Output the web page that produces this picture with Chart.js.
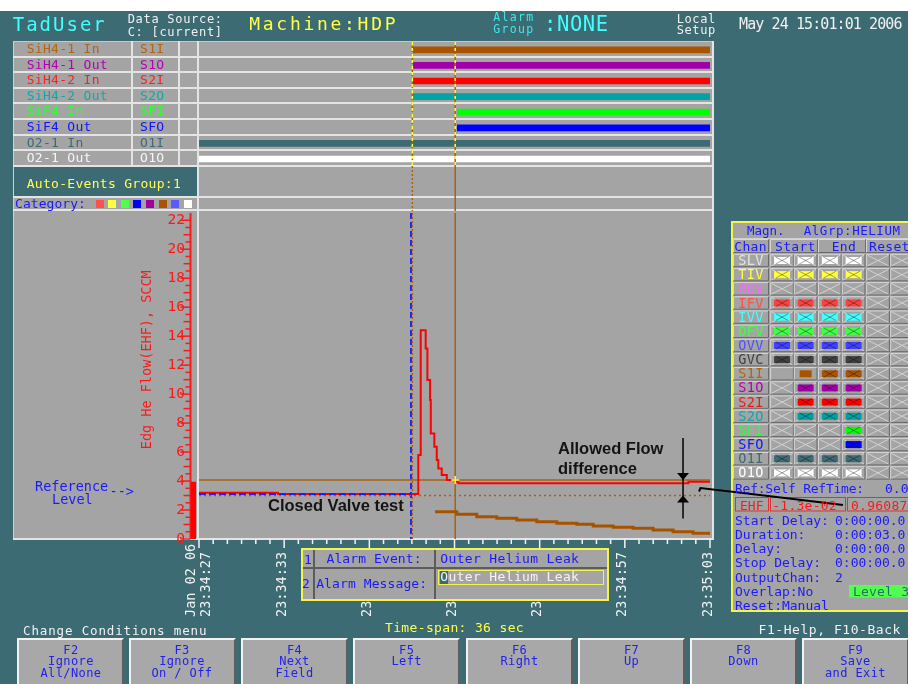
<!DOCTYPE html>
<html lang="en">
<head>
<meta charset="utf-8">
<title>TadUser - Edge He Flow</title>
<script src="https://cdn.jsdelivr.net/npm/chart.js@4.4.1/dist/chart.umd.min.js"></script>
<style>
html,body{margin:0;padding:0}
body{width:908px;height:684px;overflow:hidden;position:relative;background:#3d6b73;font-family:'DejaVu Sans Mono',monospace}
.t{position:absolute;white-space:pre;line-height:1;z-index:10}
.b{position:absolute;box-sizing:border-box}
canvas{position:absolute;z-index:5}
#flow{left:13px;top:211px}
#events{left:199px;top:42px}
#deco{position:absolute;left:0;top:0;z-index:9;pointer-events:none}
.key{position:absolute;top:638px;width:107px;height:52px;box-sizing:border-box;background:#a8a8a8;border:2px solid;border-color:#f2f2f2 #5e5e5e #5e5e5e #f2f2f2;z-index:3}
</style>
</head>
<body>
<canvas id="events" width="511" height="169"></canvas>
<canvas id="flow" width="700" height="410"></canvas>
<svg id="deco" width="908" height="684"></svg>
<script>
// ---------- channels shown in the event timeline ----------
const channelNames = ['SiH4-1 In', 'SiH4-1 Out', 'SiH4-2 In', 'SiH4-2 Out', 'SiF4 In', 'SiF4 Out', 'O2-1 In', 'O2-1 Out'];
const channelCodes = ['S1I', 'S1O', 'S2I', 'S2O', 'SFI', 'SFO', 'O1I', 'O1O'];
const channelOnSec = [42.1, 42.1, 42.1, 42.1, 45.2, 45.2, 27, 27];
const channelOffSec = [63, 63, 63, 63, 63, 63, 63, 63];

// ---------- time axis (seconds after 23:34:00) ----------
const tickSec = [27, 33, 39, 45, 51, 57, 63];
const tickLabels = ['23:34:27', '23:34:33', '23:34:39', '23:34:45', '23:34:51', '23:34:57', '23:35:03'];
const dateLabel = 'Jan 02 06';
const yTickValues = [0, 2, 4, 6, 8, 10, 12, 14, 16, 18, 20, 22];

// ---------- edge helium flow, SCCM ----------
const flowSec = [27, 32.57, 42.45, 42.62, 42.97, 43.09, 43.28, 43.33, 43.58, 43.75, 43.86, 44.1, 44.46, 45.08, 45.27, 61.48, 63];
const flowSccm = [3.2, 3.1, 5.8, 14.4, 13.15, 10.97, 9.59, 7.29, 6.37, 5.45, 4.87, 4.41, 4.07, 3.95, 3.84, 3.95, 3.95];

// SiH4-1 inlet trace
const s1Sec = [43.63, 45.16, 46.57, 47.98, 49.39, 50.8, 52.21, 53.62, 54.77, 56.18, 57.58, 58.99, 60.4, 61.81, 63];
const s1Sccm = [1.88, 1.70, 1.54, 1.43, 1.31, 1.19, 1.08, 1.01, 0.90, 0.81, 0.74, 0.62, 0.50, 0.39, 0.28];

// closed valve reference and allowed band
const refSec = [27, 41.94];
const refSccm = [3.1, 3.1];
const limitSec = [27, 63];
const upperLimit = [4.07, 4.07];
const lowerLimit = [3.0, 3.0];
const refLevel = 3.95;

// event markers
const triggerSec = 41.94;
const startSec = 42.03;
const cursorSec = 45.05;
const arrowSec = 61.1;

// ---------- magnitude table ----------
const magnChans = ['SLV', 'TIV', 'RUV', 'IFV', 'IVV', 'OFV', 'OVV', 'GVC', 'S1I', 'S1O', 'S2I', 'S2O', 'SFI', 'SFO', 'O1I', 'O1O'];
const magnState = ['1111', '1111', '0000', '1111', '1111', '1111', '1111', '1111', '-211', '0111', '0111', '0111', '0001', '0001', '1111', '1111'];

// ---------- palette ----------
const TEAL = '#3d6b73', GRAY = '#a4a4a4', LINE = '#e4e4e4', BLUE = '#1a1aff', RED = '#ff1818', BROWN = '#a8620f', YEL = '#ffff44';
const channelText = ['#b4640f', '#b400b4', '#ff2020', '#10a8a8', '#30ff30', '#1414ff', '#3d6b73', '#f6f6f6'];
const channelBar = ['#a85400', '#a000a8', '#ff0000', '#00a4a4', '#00ff00', '#0000ff', '#3d6b73', '#ffffff'];
const categoryColors = ['#ff5050', '#ffff40', '#50ff50', '#0000ff', '#a000a0', '#a85400', '#5a5aff', '#ffffff'];
const magnText = ['#e4e4e4', '#ffff40', '#ff64ff', '#ff5050', '#40ffff', '#40ff40', '#5050ff', '#404040', '#b4640f', '#b400b4', '#ff1010', '#10a8a8', '#30ff30', '#1414ff', '#3d6b73', '#ffffff'];
const magnFill = ['#ffffff', '#ffff40', '#ff64ff', '#ff4040', '#40ffff', '#40ff40', '#4040ff', '#404040', '#a85400', '#a000a8', '#ff0000', '#00a0a0', '#00ff00', '#0000ff', '#3d6b73', '#ffffff'];

const MONO = "'DejaVu Sans Mono', monospace";
const SANS = "'Liberation Sans', Arial, sans-serif";

function rect(x, y, w, h, css) {
  const d = document.createElement('div');
  d.className = 'b';
  Object.assign(d.style, { left: x + 'px', top: y + 'px', width: w + 'px', height: h + 'px' }, css);
  document.body.appendChild(d);
  return d;
}
function text(str, x, capTop, size, color, o = {}) {
  const d = document.createElement('div');
  d.className = 't';
  d.textContent = str;
  const k = o.family === SANS ? 0.1305 : 0.117;
  d.style.left = x + 'px';
  d.style.top = (capTop - k * size) + 'px';
  d.style.fontSize = size + 'px';
  d.style.color = color;
  if (o.ls !== undefined) d.style.letterSpacing = o.ls + 'px';
  if (o.family) d.style.fontFamily = o.family;
  if (o.bold) d.style.fontWeight = 'bold';
  if (o.width) { d.style.width = o.width + 'px'; d.style.textAlign = 'center'; }
  if (o.z) d.style.zIndex = o.z;
  document.body.appendChild(d);
  return d;
}

// ---------- header ----------
rect(0, 0, 908, 11, { background: '#ffffff' });
text('TadUser', 12.7, 17, 19, '#40ffff', { ls: 2 });
text('Data Source:', 127.7, 14, 12, '#f0f0f0', { ls: 0.7 });
text('C: [current]', 127.7, 27, 12, '#f0f0f0', { ls: 0.7 });
text('Machine:HDP', 249.3, 17.3, 18, YEL, { ls: 2.7 });
text('Alarm', 493.3, 13.3, 11.5, '#40e8e8', { ls: 1.3 });
text('Group', 493.3, 25.3, 11.5, '#40e8e8', { ls: 1.3 });
text(':NONE', 544, 16.7, 20.5, '#40ffff', { ls: 0.6 });
text('Local', 676.7, 14, 12, '#f0f0f0', { ls: 0.6 });
text('Setup', 676.7, 25.5, 12, '#f0f0f0', { ls: 0.6 });
text('May 24 15:01:01 2006', 739, 18.3, 15, '#f0f0f0', { ls: -0.9 });

// ---------- main grey panel ----------
rect(13, 41, 700, 498, { background: GRAY, zIndex: 1 });
rect(13, 41, 700, 1, { background: '#c8c8c8', zIndex: 2 });
rect(13, 41, 1, 499, { background: '#d0d0d0', zIndex: 2 });
for (let i = 0; i < channelNames.length; i++) rect(13, 42 + 15.6 * (i + 1) - 2, 700, 2, { background: LINE, zIndex: 2 });
rect(13, 195.5, 700, 2, { background: LINE, zIndex: 2 });
rect(13, 208.5, 700, 2, { background: LINE, zIndex: 2 });
rect(13, 538, 701, 2, { background: LINE, zIndex: 2 });
rect(131, 41, 2, 125, { background: LINE, zIndex: 2 });
rect(177.5, 41, 2, 125, { background: LINE, zIndex: 2 });
rect(197, 41, 2, 499, { background: LINE, zIndex: 2 });
rect(712, 41, 2, 499, { background: LINE, zIndex: 2 });
rect(14, 167, 183, 28.5, { background: TEAL, zIndex: 2 });

channelNames.forEach((n, i) => {
  const top = 42 + 15.6 * i;
  text(n, 26.7, top + 1.5, 13, channelText[i], { ls: 0.3 });
  text(channelCodes[i], 140, top + 1.5, 13, channelText[i], { ls: 0.3 });
});
text('Auto-Events Group:1', 26.7, 178.3, 13, '#ffff50', { ls: 0.3 });
text('Category:', 15, 198.5, 13, BLUE, { ls: 0.05 });
categoryColors.forEach((c, i) => rect(95.5 + 12.65 * i, 199.5, 8, 8, { background: c, zIndex: 3 }));

text('Reference', 35, 481.7, 13.5, BLUE);
text('-->', 109.5, 487, 13.5, BLUE);
text('Level', 52, 495, 13.5, BLUE);

text('Closed Valve test', 268, 499.3, 16.5, '#141414', { family: SANS, bold: true });
text('Allowed Flow', 558, 441.7, 16.5, '#141414', { family: SANS, bold: true });
text('difference', 558, 461.7, 16.5, '#141414', { family: SANS, bold: true });

// ---------- alarm box ----------
rect(301, 548, 308, 53, { background: GRAY, border: '2px solid #f4f44c', zIndex: 8 });
rect(313, 550, 1.5, 49, { background: '#5c5c5c', zIndex: 8 });
rect(434, 550, 1.5, 49, { background: '#5c5c5c', zIndex: 8 });
rect(303, 567, 304, 1.5, { background: '#5c5c5c', zIndex: 8 });
text('1', 304, 554.5, 13, BLUE);
text('Alarm Event:', 326.5, 553.5, 13, BLUE, { ls: 0.1 });
text('Outer Helium Leak', 440.3, 554, 13, BLUE, { ls: 0.35 });
text('2', 302, 579, 13, BLUE);
text('Alarm Message:', 316.2, 578.3, 13, BLUE, { ls: 0.1 });
rect(437.6, 569.5, 166.5, 15.5, { border: '1.5px solid #f4f44c', zIndex: 8 });
rect(439.5, 570.5, 8, 13, { background: TEAL, zIndex: 8 });
text('Outer Helium Leak', 440.3, 572, 13, '#f4f4f4', { ls: 0.35 });

// ---------- bottom line and function keys ----------
text('Change Conditions menu', 23, 626, 12.5, '#f0f0f0', { ls: 0.85 });
text('Time-span: 36 sec', 385, 622.3, 13, YEL, { ls: 0.35 });
text('F1-Help, F10-Back', 758.5, 625, 13, '#f0f0f0', { ls: 0.55 });
const keyLeft = [17.4, 128.5, 241, 353.2, 466, 578, 690, 802];
const keyText = [['F2', 'Ignore', 'All/None'], ['F3', 'Ignore', 'On / Off'], ['F4', 'Next', 'Field'], ['F5', 'Left'], ['F6', 'Right'], ['F7', 'Up'], ['F8', 'Down'], ['F9', 'Save', 'and Exit']];
const keyCap = [645.5, 656, 668.5];
keyLeft.forEach((x, i) => {
  const k = document.createElement('div');
  k.className = 'key';
  k.style.left = x + 'px';
  document.body.appendChild(k);
  keyText[i].forEach((s, j) => text(s, x, keyCap[j], 12, '#2222ee', { width: 107, ls: 0.4 }));
});

// ---------- magnitude panel ----------
rect(731, 221, 185, 391, { background: GRAY, border: '2px solid #f4f44c', zIndex: 8 });
text('Magn.', 747, 226.7, 12.5, BLUE, { ls: 0 });
text('AlGrp:HELIUM', 803.7, 226.7, 12.5, BLUE, { ls: 0.55 });
text('Chan', 734.3, 242, 13, BLUE, { ls: 0.3 });
text('Start', 775, 242, 13, BLUE, { ls: 0.3 });
text('End', 831.7, 242, 13, BLUE, { ls: 0.3 });
text('Reset', 869, 242, 13, BLUE, { ls: 0.3 });

const cellX = [770.7, 794.3, 818.5, 842.3, 866.7, 890.7];
const cellW = 22.7, cellH = 12.4, rowStride = 14.16, row0 = 254.3;
function bevel(x, y, w, h) {
  return `<path d="M${x} ${y + h}V${y}H${x + w}" stroke="#d6d6d6" fill="none"/>` +
         `<path d="M${x + w} ${y}V${y + h}H${x}" stroke="#6a6a6a" fill="none"/>`;
}
function cell(x, y, w, h, state, fill) {
  let s = bevel(x, y, w, h);
  if (state === '-') return s;
  const cx = x + w / 2, cy = y + h / 2;
  if (state !== '2') s += `<path d="M${x + 1} ${y + 1}L${x + w - 1} ${y + h - 1}M${x + 1} ${y + h - 1}L${x + w - 1} ${y + 1}" stroke="#d2d2d2" fill="none"/>`;
  if (state === '1' || state === '2') {
    const rw = state === '2' ? 12 : 16, rh = 7;
    s += `<rect x="${cx - rw / 2}" y="${cy - rh / 2}" width="${rw}" height="${rh}" fill="${fill}"/>`;
    if (state === '1') {
      const k = 0.56;
      s += `<path d="M${cx - k * w / 2} ${cy - k * h / 2}L${cx + k * w / 2} ${cy + k * h / 2}M${cx - k * w / 2} ${cy + k * h / 2}L${cx + k * w / 2} ${cy - k * h / 2}" stroke="rgba(0,0,0,0.35)" fill="none"/>`;
    }
  }
  return s;
}
let svg = '';
svg += `<path d="M733 238.5H908" stroke="#d0d0d0"/>`;
svg += bevel(733.5, 239.5, 35, 13) + bevel(770.5, 239.5, 47, 13) + bevel(818.5, 239.5, 47, 13) + bevel(866.5, 239.5, 50, 13);
magnChans.forEach((c, r) => {
  const y = row0 + rowStride * r;
  svg += bevel(733.5, y, 35, cellH);
  text(c, 733.5, y + 1.3, 13.5, magnText[r], { width: 35, ls: 0.3 });
  const st = magnState[r] + '00';
  for (let j = 0; j < 6; j++) svg += cell(cellX[j], y, cellW, cellH, st[j], magnFill[r]);
});
text('Ref:Self RefTime:', 735, 483.3, 13, BLUE, { ls: -0.25 });
text('0.0', 885, 483.3, 13, BLUE);
svg += `<rect x="735.5" y="497.5" width="33" height="13.5" fill="none" stroke="#e23030"/>`;
svg += `<rect x="770.5" y="497.5" width="75" height="13.5" fill="none" stroke="#e23030"/>`;
svg += `<rect x="847.5" y="497.5" width="70" height="13.5" fill="none" stroke="#e23030"/>`;
text('EHF', 740, 500.7, 13, RED);
text('-1.3e-02', 772.3, 500.7, 13, RED, { ls: 0.25 });
text('0.96087', 851, 500.7, 13, RED, { ls: 0.25 });
const setupLabels = ['Start Delay:', 'Duration:', 'Delay:', 'Stop Delay:', 'OutputChan:', 'Overlap:No', 'Reset:Manual'];
const setupValues = ['0:00:00.0', '0:00:03.0', '0:00:00.0', '0:00:00.0', '2', '', ''];
const setupCap = [516, 530, 544, 557.3, 572.7, 586.7, 600.7];
setupLabels.forEach((s, i) => {
  text(s, 735, setupCap[i], 13, BLUE, { ls: 0 });
  if (setupValues[i]) text(setupValues[i], 835, setupCap[i], 13, BLUE, { ls: 0 });
});
svg += `<rect x="849" y="585" width="70" height="12.5" fill="#50ff50"/>`;
text('Level 3', 853, 587, 13, '#2d6e5e', { ls: 0.2 });
// pointer from the allowed band to the magnitude cell
svg += `<polyline points="699,491.5 700.5,488 843,505" fill="none" stroke="#000" stroke-width="2"/>`;
document.getElementById('deco').innerHTML = svg;

// ---------- charts ----------
Chart.defaults.font.family = MONO;
const pts = (xs, ys) => xs.map((x, i) => ({ x, y: ys[i] }));

function vline(ctx, px, y0, y1, color, width, dash) {
  ctx.strokeStyle = color;
  ctx.lineWidth = width;
  ctx.setLineDash(dash);
  ctx.beginPath();
  ctx.moveTo(px, y0);
  ctx.lineTo(px, y1);
  ctx.stroke();
}

const eventMarks = {
  id: 'eventMarks',
  afterDatasetsDraw(chart) {
    const { ctx, chartArea: a, scales: { x } } = chart;
    ctx.save();
    [[startSec, [2, 2]], [cursorSec, []]].forEach(([sec, dash]) => {
      const px = x.getPixelForValue(sec);
      vline(ctx, px, 0, chart.height, BROWN, 1.5, dash);
      vline(ctx, px, a.top, a.bottom, YEL, 1.5, [3, 3]);
    });
    ctx.restore();
  }
};

new Chart(document.getElementById('events'), {
  type: 'bar',
  data: {
    labels: channelCodes,
    datasets: [{
      data: channelCodes.map((c, i) => [channelOnSec[i], channelOffSec[i]]),
      backgroundColor: channelBar,
      barThickness: 6,
      borderWidth: 0
    }]
  },
  options: {
    indexAxis: 'y',
    responsive: false,
    animation: false,
    events: [],
    layout: { padding: { left: 0, right: 0, top: 0, bottom: 44.2 } },
    plugins: { legend: { display: false }, tooltip: { enabled: false } },
    scales: {
      x: { type: 'linear', min: 27, max: 63, display: false },
      y: { type: 'category', display: false }
    }
  },
  plugins: [eventMarks]
});

const flowMarks = {
  id: 'flowMarks',
  beforeDatasetsDraw(chart) {
    const { ctx, chartArea: a, scales: { x } } = chart;
    ctx.save();
    vline(ctx, x.getPixelForValue(triggerSec), a.top, a.bottom, '#1c1cff', 2, [6, 3]);
    vline(ctx, x.getPixelForValue(startSec), a.top, a.bottom, BROWN, 1.5, [2, 2]);
    vline(ctx, x.getPixelForValue(cursorSec), a.top, a.bottom, BROWN, 1.5, []);
    ctx.restore();
  },
  afterDatasetsDraw(chart) {
    const { ctx, chartArea: a, scales: { x, y } } = chart;
    ctx.save();
    ctx.setLineDash([]);
    // time ticks: one per second, longer every six
    ctx.strokeStyle = '#f2f2f2';
    ctx.lineWidth = 1.5;
    for (let s = tickSec[0]; s <= tickSec[tickSec.length - 1]; s++) {
      const px = x.getPixelForValue(s);
      const len = tickSec.includes(s) ? 9 : 5;
      ctx.beginPath(); ctx.moveTo(px, a.bottom); ctx.lineTo(px, a.bottom + len); ctx.stroke();
    }
    // time labels, written upward from a common baseline
    ctx.fillStyle = '#f2f2f2';
    ctx.font = `13.5px ${MONO}`;
    ctx.textAlign = 'left';
    ctx.textBaseline = 'middle';
    tickSec.forEach((s, i) => {
      const px = x.getPixelForValue(s);
      const lines = i === 0 ? [dateLabel, tickLabels[0]] : [tickLabels[i]];
      lines.forEach((ln, j) => {
        ctx.save();
        ctx.translate(px + (j - (lines.length - 1) / 2) * 14.5 - (lines.length === 1 ? 2 : 0), a.bottom + 78);
        ctx.rotate(-Math.PI / 2);
        ctx.fillText(ln, 0, 0);
        ctx.restore();
      });
    });
    // flow axis with half-unit ticks
    const axisX = a.left - 8.5;
    ctx.strokeStyle = RED;
    ctx.lineWidth = 2;
    ctx.beginPath(); ctx.moveTo(axisX, y.getPixelForValue(0)); ctx.lineTo(axisX, a.top); ctx.stroke();
    ctx.lineWidth = 1.5;
    for (let k = 0; k <= 44; k++) {
      const py = y.getPixelForValue(k * 0.5);
      const len = k % 4 === 0 ? 10 : (k % 2 === 0 ? 7 : 5);
      ctx.beginPath(); ctx.moveTo(axisX - len, py); ctx.lineTo(axisX, py); ctx.stroke();
    }
    // reference level bar
    ctx.fillStyle = '#ff0000';
    const yr = y.getPixelForValue(refLevel);
    ctx.fillRect(axisX + 0.5, yr, a.left - 3 - (axisX + 0.5), y.getPixelForValue(0) - yr);
    // cursor cross on the flow trace
    let v = flowSccm[0];
    flowSec.forEach((s, i) => { if (s <= cursorSec) v = flowSccm[i]; });
    const cx = x.getPixelForValue(cursorSec), cy = y.getPixelForValue(v);
    ctx.strokeStyle = '#ffff30';
    ctx.lineWidth = 1.5;
    ctx.beginPath(); ctx.moveTo(cx - 4, cy); ctx.lineTo(cx + 4, cy); ctx.moveTo(cx, cy - 4); ctx.lineTo(cx, cy + 4); ctx.stroke();
    // allowed flow difference arrow
    const ax = x.getPixelForValue(arrowSec);
    const yU = y.getPixelForValue(upperLimit[0]), yL = y.getPixelForValue(lowerLimit[0]);
    ctx.strokeStyle = '#000';
    ctx.fillStyle = '#000';
    ctx.lineWidth = 1.5;
    ctx.beginPath(); ctx.moveTo(ax, yU - 42); ctx.lineTo(ax, yL + 23); ctx.stroke();
    ctx.beginPath(); ctx.moveTo(ax - 6, yU - 7); ctx.lineTo(ax + 6, yU - 7); ctx.lineTo(ax, yU); ctx.closePath(); ctx.fill();
    ctx.beginPath(); ctx.moveTo(ax - 6, yL + 7); ctx.lineTo(ax + 6, yL + 7); ctx.lineTo(ax, yL); ctx.closePath(); ctx.fill();
    ctx.restore();
  }
};

new Chart(document.getElementById('flow'), {
  type: 'line',
  data: {
    datasets: [
      { label: 'Reference', data: pts(refSec, refSccm), borderColor: '#1c1cff', borderWidth: 2, borderDash: [7, 3], pointRadius: 0, order: 1 },
      { label: 'EHF', data: pts(flowSec, flowSccm), borderColor: '#ff0000', borderWidth: 2, stepped: true, pointRadius: 0, order: 2 },
      { label: 'S1I', data: pts(s1Sec, s1Sccm), borderColor: '#a65300', borderWidth: 3, stepped: true, pointRadius: 0, order: 3 },
      { label: 'Upper', data: pts(limitSec, upperLimit), borderColor: BROWN, borderWidth: 1.5, pointRadius: 0, order: 4 },
      { label: 'Lower', data: pts(limitSec, lowerLimit), borderColor: BROWN, borderWidth: 1.5, borderDash: [2, 3], pointRadius: 0, order: 5 }
    ]
  },
  options: {
    responsive: false,
    animation: false,
    events: [],
    layout: { padding: { left: 0, right: 3, top: 2, bottom: 0 } },
    plugins: { legend: { display: false }, tooltip: { enabled: false } },
    scales: {
      x: {
        type: 'linear', min: 27, max: 63,
        afterBuildTicks: s => { s.ticks = tickSec.map(v => ({ value: v })); },
        afterFit: s => { s.height = 82; s.paddingLeft = 0; s.paddingRight = 0; },
        grid: { display: false, drawTicks: false },
        border: { display: false },
        ticks: { display: false }
      },
      y: {
        type: 'linear', min: 0, max: 22.5,
        afterBuildTicks: s => { s.ticks = yTickValues.map(v => ({ value: v })); },
        afterFit: s => { s.width = 186; s.paddingTop = 0; s.paddingBottom = 0; },
        grid: { display: false, drawTicks: false },
        border: { display: false },
        ticks: { padding: 14, color: RED, font: { family: MONO, size: 14.5 }, callback: v => String(v) },
        title: { display: true, text: '    Edg He Flow(EHF), SCCM', color: RED, font: { family: MONO, size: 13.5 }, padding: { top: 126, bottom: 0 } }
      }
    }
  },
  plugins: [flowMarks]
});
</script>
</body>
</html>
